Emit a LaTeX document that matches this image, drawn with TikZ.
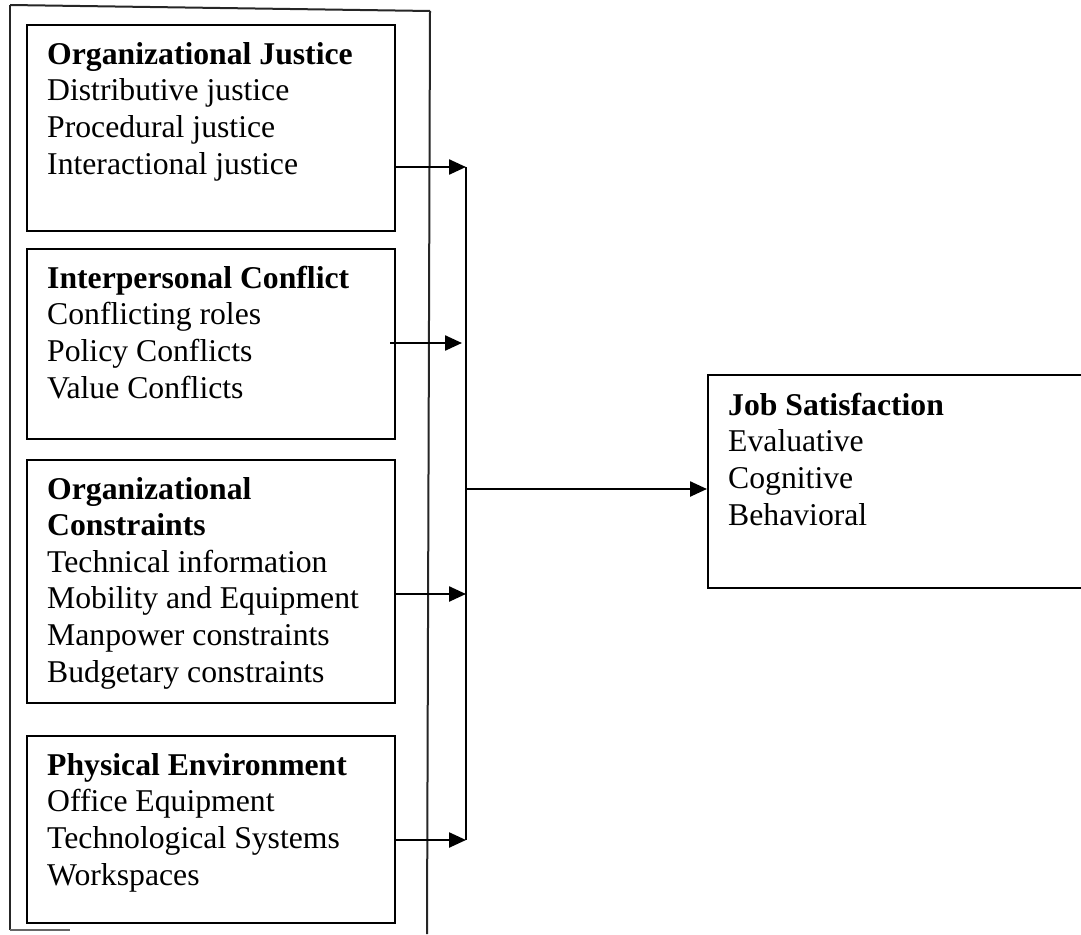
\documentclass[tikz,border=0pt]{standalone}
\usepackage{fontspec}
\setmainfont{Liberation Serif}
\usetikzlibrary{arrows.meta}
\begin{document}
\begin{tikzpicture}[x=1pt,y=-1pt,
  box/.style={draw=black, line width=2.4pt, rectangle, anchor=north west, inner sep=0pt},
  txt/.style={anchor=base west, align=left, inner sep=0pt, font=\fontsize{31.7}{36.6}\selectfont},
  frame/.style={draw=black!85, line width=2pt},
  conn/.style={draw=black, line width=2.4pt},
  arr/.style={conn, -{Triangle[length=17pt,width=15pt]}}]
\useasboundingbox (0,0) rectangle (1081,934);
% outer frame
\coordinate (fa) at (10,5);
\coordinate (fb) at (430,11);
\coordinate (fc) at (427,934);
\coordinate (fd) at (10,930);
\coordinate (fe) at (70,930);
\draw[frame] (fa) -- (fb);
\draw[frame] (fb) -- (fc);
\draw[frame] (fa) -- (fd);
\draw[frame, draw=black!60] (fd) -- (fe);
% boxes
\node[box, minimum width=368pt, minimum height=206pt] (b1) at (26,24) {};
\node[box, minimum width=368pt, minimum height=190pt] (b2) at (26,248) {};
\node[box, minimum width=368pt, minimum height=243pt] (b3) at (26,459) {};
\node[box, minimum width=368pt, minimum height=187pt] (b4) at (26,735) {};
\node[box, minimum width=380pt, minimum height=213pt] (job) at (707,374) {};
% texts (base anchor = last line's baseline)
\node[txt] (t1) at (47,174) {\textbf{Organizational Justice}\\Distributive justice\\Procedural justice\\Interactional justice};
\node[txt] (t2) at (47,398) {\textbf{Interpersonal Conflict}\\Conflicting roles\\Policy Conflicts\\Value Conflicts};
\node[txt] (t3) at (47,682) {\textbf{Organizational}\\\textbf{Constraints}\\Technical information\\Mobility and Equipment\\Manpower constraints\\Budgetary constraints};
\node[txt] (t4) at (47,885) {\textbf{Physical Environment}\\Office Equipment\\Technological Systems\\Workspaces};
\node[txt] (t5) at (728,525) {\textbf{Job Satisfaction}\\Evaluative\\Cognitive\\Behavioral};
% bus
\coordinate (s1) at (466,167);
\coordinate (s2) at (462,343);
\coordinate (s3) at (466,594);
\coordinate (s4) at (466,840);
\coordinate (s0) at (466,489);
\coordinate (a2) at (390,343);
\draw[conn] (s1) -- (s4);
\draw[arr] (b1.east |- s1) -- (s1);
\draw[arr] (a2) -- (s2);
\draw[arr] (b3.east |- s3) -- (s3);
\draw[arr] (b4.east |- s4) -- (s4);
\draw[arr] (s0) -- (s0 -| job.west);
\end{tikzpicture}
\end{document}
